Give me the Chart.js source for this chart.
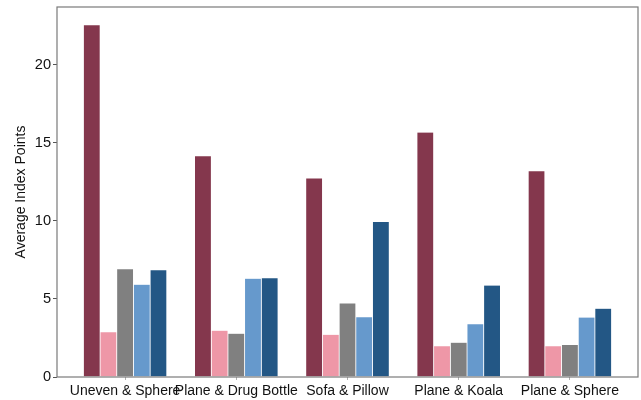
<!DOCTYPE html>
<html>
<head>
<meta charset="utf-8">
<script src="https://cdn.jsdelivr.net/npm/chart.js@4"></script>
<style>
  html, body { margin: 0; padding: 0; background: #fff; }
  #wrap { width: 641px; height: 400px; }
</style>
</head>
<body>
<div id="wrap"><canvas id="barCanvas" width="641" height="400"></canvas></div>
<script>
// categories and series
var categories = ["Uneven & Sphere", "Plane & Drug Bottle", "Sofa & Pillow", "Plane & Koala", "Plane & Sphere"];
var seriesA = [22.56, 14.17, 12.74, 15.68, 13.21];
var seriesB = [2.90, 2.99, 2.73, 1.99, 1.99];
var seriesC = [6.92, 2.80, 4.74, 2.22, 2.07];
var seriesD = [5.94, 6.32, 3.85, 3.40, 3.83];
var seriesE = [6.86, 6.35, 9.96, 5.88, 4.40];
var yTicks = [0, 5, 10, 15, 20];

var colors = ['#84374d', '#ee97a7', '#808080', '#6699cc', '#235785'];
var allSeries = [seriesA, seriesB, seriesC, seriesD, seriesE];

var datasets = allSeries.map(function (vals, k) {
    return {
        label: 's' + k,
        data: vals.map(function (v, i) { return { x: i, y: v }; }),
        backgroundColor: colors[k],
        borderColor: 'rgba(255,255,255,0.35)',
        borderWidth: 0.4,
        categoryPercentage: 0.75,
        barPercentage: 1.0
    };
});

// frame around the plot area
var boxPlugin = {
    id: 'box',
    afterDraw: function (chart) {
        var a = chart.chartArea, ctx = chart.ctx;
        ctx.save();
        ctx.strokeStyle = '#7a7a7a';
        ctx.lineWidth = 1.2;
        ctx.strokeRect(a.left, a.top, a.right - a.left, a.bottom - a.top);
        ctx.restore();
    }
};

var font = "'Liberation Sans', Arial, sans-serif";

window.onload = function () {
    var ctx = document.getElementById("barCanvas").getContext("2d");
    window.myBar = new Chart(ctx, {
        type: 'bar',
        data: { datasets: datasets },
        plugins: [boxPlugin],
        options: {
            responsive: false,
            animation: false,
            layout: { padding: { top: 7, right: 3, left: 0, bottom: 0 } },
            plugins: { legend: { display: false }, tooltip: { enabled: false } },
            scales: {
                x: {
                    type: 'linear',
                    offset: false,
                    min: -0.6125,
                    max: 4.6125,
                    afterBuildTicks: function (s) {
                        s.ticks = categories.map(function (c, i) { return { value: i }; });
                    },
                    afterFit: function (s) {
                        s.height = 23;
                        s.paddingLeft = 0;
                        s.paddingRight = 0;
                    },
                    grid: { offset: false, drawOnChartArea: false, tickLength: 3, color: '#b0b0b0' },
                    border: { display: false },
                    ticks: {
                        autoSkip: false,
                        maxRotation: 0,
                        padding: 3,
                        color: '#111',
                        font: { family: font, size: 14 },
                        callback: function (v) { return categories[v]; }
                    }
                },
                y: {
                    min: 0,
                    max: 23.7,
                    afterBuildTicks: function (s) {
                        s.ticks = yTicks.map(function (v) { return { value: v }; });
                    },
                    afterFit: function (s) {
                        s.width = 57;
                        s.paddingTop = 0;
                        s.paddingBottom = 0;
                    },
                    grid: { drawOnChartArea: false, tickLength: 4, color: '#555' },
                    border: { display: false },
                    ticks: {
                        padding: 2,
                        color: '#111',
                        font: { family: font, size: 14.6 }
                    },
                    title: {
                        display: true,
                        text: 'Average Index Points',
                        color: '#111',
                        padding: { top: 13, bottom: 0 },
                        font: { family: font, size: 14 }
                    }
                }
            }
        }
    });
};
</script>
</body>
</html>
